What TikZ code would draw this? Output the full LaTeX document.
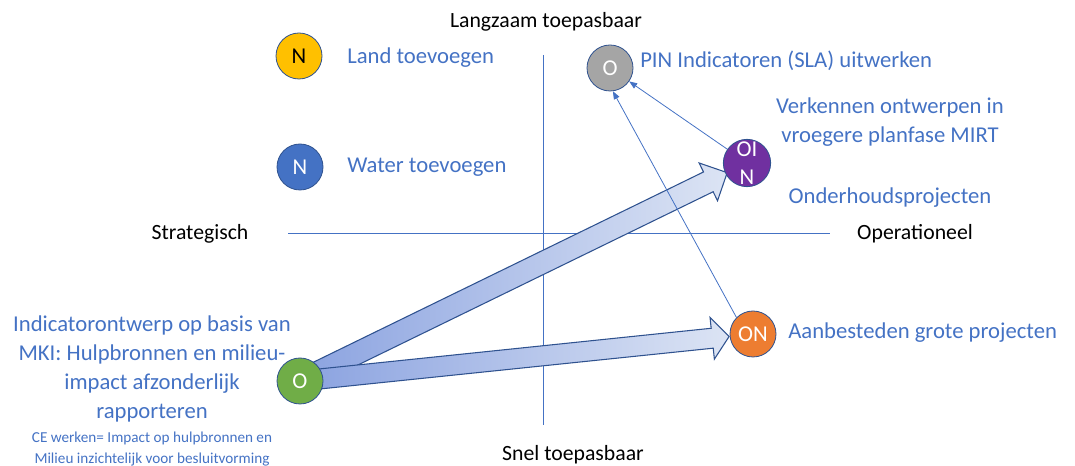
\documentclass[tikz,border=0pt]{standalone}
\usepackage{fontspec}
\setmainfont{Carlito}
\usetikzlibrary{calc,arrows.meta}

\definecolor{txtblue}{HTML}{4472C4}
\definecolor{edgeblue}{HTML}{2F528F}
\definecolor{shadeA}{HTML}{8AA2E0}
\definecolor{shadeB}{HTML}{DCE4F4}
\definecolor{cyellow}{HTML}{FFC000}
\definecolor{cblue}{HTML}{4472C4}
\definecolor{cgray}{HTML}{A5A5A5}
\definecolor{cpurple}{HTML}{7030A0}
\definecolor{corange}{HTML}{ED7D31}
\definecolor{cgreen}{HTML}{70AD47}

% wide shaded arrow from node #1 to the rim of node #2
% #3 = half shaft width, #4 = half head width, #5 = head length, #6 = rim radius (all in px)
\newcommand\blockarrow[6]{%
  \path let \p1=($(#2)-(#1)$), \n1={atan2(\y1,\x1)}, \n2={veclen(\x1,\y1)} in
    \pgfextra{\xdef\baang{\n1}\xdef\balen{\n2}};
  \pgfmathsetmacro\baL{\balen-#6*0.75}%
  \pgfmathsetmacro\baB{\baL-#5*0.75}%
  \pgfmathsetmacro\baW{#3*0.75}%
  \pgfmathsetmacro\baH{#4*0.75}%
  \begin{scope}[shift={(#1)},rotate=\baang]
    \shade[left color=shadeA,right color=shadeB,draw=edgeblue,line width=0.8pt,line join=miter]
      (0pt,-\baW pt) -- (\baB pt,-\baW pt) -- (\baB pt,-\baH pt) -- (\baL pt,0pt)
      -- (\baB pt,\baH pt) -- (\baB pt,\baW pt) -- (0pt,\baW pt) -- cycle;
  \end{scope}}

\begin{document}
\begin{tikzpicture}[x=0.75pt,y=-0.75pt,
  dot/.style={circle,draw=edgeblue,line width=0.6pt,minimum size=34.5pt,inner sep=0pt,
    text=white,font=\fontsize{17}{20}\selectfont,align=center},
  lbl/.style={text=txtblue,font=\fontsize{17}{21.75}\selectfont,inner sep=0pt},
  axlbl/.style={text=black,font=\fontsize{16.3}{20}\selectfont,inner sep=0pt},
  small/.style={text=txtblue,font=\fontsize{11.4}{15.75}\selectfont,inner sep=0pt,align=center},
  axis/.style={draw=txtblue,line width=0.75pt},
  thinarr/.style={draw=txtblue,line width=0.6pt,-{Triangle[length=6pt,width=4.5pt]}}]
\useasboundingbox (0,0) rectangle (1075,466);

% axes
\coordinate (vt) at (543,55);
\coordinate (vb) at (543,425);
\coordinate (hl) at (288,234);
\coordinate (hr) at (830,234);
\draw[axis] (vt) -- (vb);
\draw[axis] (hl) -- (hr);

\node[axlbl] (slow) at (546,22) {Langzaam toepasbaar};
\node[axlbl] (fast) at (573,455) {Snel toepasbaar};
\node[axlbl] (strat) at (200,234) {Strategisch};
\node[axlbl] (oper) at (915,234) {Operationeel};

% node positions
\coordinate (pG) at (300,381);
\coordinate (pP) at (747,163);
\coordinate (pO) at (753,334);

% wide arrows sit under the circles
\blockarrow{pG}{pP}{11}{21}{21}{22}
\blockarrow{pG}{pO}{10}{21}{17}{24}

% circles
\node[dot,fill=cyellow,text=black] (land) at (299,56) {N};
\node[dot,fill=cblue] (water) at (300,167) {N};
\node[dot,fill=cgray] (pin) at (610,68) {O};
\node[dot,fill=cpurple,font=\fontsize{17}{21}\selectfont] (mirt) at (pP) {OI\\N};
\node[dot,fill=corange] (aanb) at (pO) {ON};
\node[dot,fill=cgreen] (mki) at (pG) {O};

% thin arrows towards the PIN circle
\draw[thinarr] (mirt.145) -- (pin.-35);
\draw[thinarr] (aanb.135) -- (pin.-83);

% labels
\node[lbl,anchor=west] (tland) at (347,58) {Land toevoegen};
\node[lbl,anchor=west] (twater) at (347,167) {Water toevoegen};
\node[lbl,anchor=west] (tpin) at (640,61) {PIN Indicatoren (SLA) uitwerken};
\node[lbl,align=center] (tverk) at (890,122) {Verkennen ontwerpen in\\vroegere planfase MIRT};
\node[lbl] (tonder) at (890,198) {Onderhoudsprojecten};
\node[lbl,anchor=west] (taanb) at (788,333) {Aanbesteden grote projecten};
\node[lbl,align=center] (tmki) at (152,369) {Indicatorontwerp op basis van\\MKI: Hulpbronnen en milieu-\\impact afzonderlijk\\rapporteren};
\node[small] (tce) at (152,449) {CE werken= Impact op hulpbronnen en\\Milieu inzichtelijk voor besluitvorming};
\end{tikzpicture}
\end{document}
